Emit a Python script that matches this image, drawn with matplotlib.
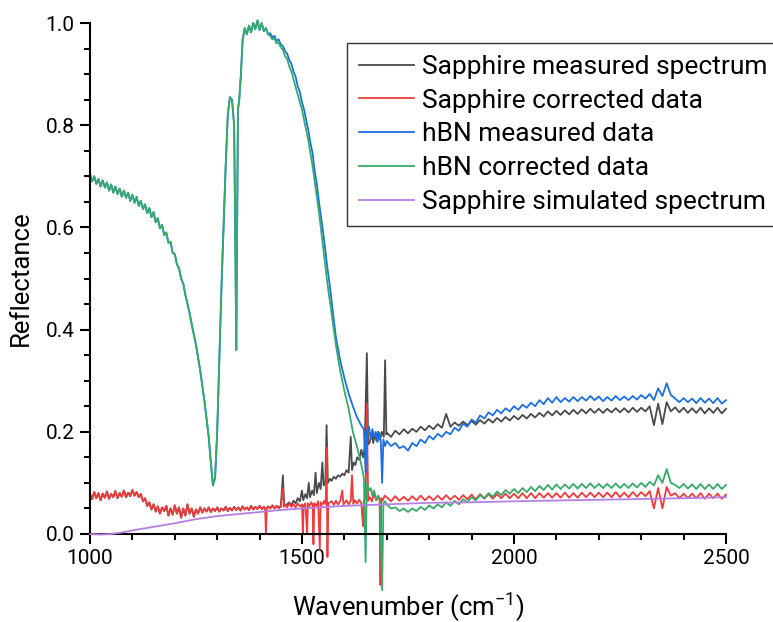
import matplotlib
matplotlib.use("Agg")
import matplotlib.pyplot as plt
from matplotlib.ticker import MultipleLocator, FormatStrFormatter

plt.rcParams['font.family'] = ['Roboto', 'DejaVu Sans']
plt.rcParams['mathtext.fontset'] = 'custom'
plt.rcParams['mathtext.rm'] = 'Roboto'
plt.rcParams['mathtext.default'] = 'regular'

# hBN shape shared by measured / corrected up to ~1420 cm-1
hbn_x_low = [1000, 1005, 1010, 1015, 1020, 1025, 1030, 1035, 1040, 1045, 1050, 1055, 1060, 1065, 1070,
             1075, 1080, 1085, 1090, 1095, 1100, 1105, 1110, 1115, 1120, 1125, 1130, 1135, 1140, 1145,
             1150, 1155, 1160, 1165, 1170, 1175, 1180, 1185, 1190, 1195, 1200, 1205, 1210, 1215, 1220,
             1225, 1230, 1235, 1240, 1245, 1250, 1255, 1260, 1270, 1280, 1285, 1290, 1295, 1300, 1310,
             1320, 1325, 1330, 1335, 1340, 1343, 1345, 1347, 1349, 1352, 1356, 1360, 1365, 1370, 1375,
             1380, 1385, 1390, 1395, 1400, 1405, 1410, 1415, 1420]
hbn_y_low = [0.705, 0.69, 0.70, 0.685, 0.695, 0.68, 0.692, 0.678, 0.688, 0.672, 0.684, 0.668, 0.68, 0.665, 0.676,
             0.66, 0.672, 0.658, 0.668, 0.652, 0.664, 0.648, 0.66, 0.642, 0.652, 0.636, 0.645, 0.628, 0.638, 0.62,
             0.63, 0.61, 0.618, 0.598, 0.605, 0.585, 0.59, 0.57, 0.572, 0.55, 0.548, 0.528, 0.52, 0.50, 0.49,
             0.468, 0.45, 0.432, 0.41, 0.39, 0.37, 0.345, 0.32, 0.26, 0.19, 0.14, 0.095, 0.11, 0.2, 0.48,
             0.72, 0.82, 0.855, 0.85, 0.80, 0.55, 0.36, 0.6, 0.83, 0.85, 0.90, 0.967, 0.99, 0.978, 0.995,
             0.982, 1.0, 0.988, 1.005, 0.986, 1.0, 0.984, 0.99, 0.978]

tail_x = list(range(1700, 2510, 10))

hbn_meas_x = hbn_x_low + [1425, 1430, 1435, 1440, 1445, 1450, 1455, 1460, 1465, 1470, 1475, 1480, 1485, 1490,
                          1495, 1500, 1505, 1510, 1515, 1520, 1525, 1530, 1535, 1540, 1545, 1550, 1555, 1560,
                          1565, 1570, 1575, 1580, 1590, 1600, 1610, 1620, 1630, 1640, 1646, 1650, 1653, 1658,
                          1662, 1666, 1670, 1674, 1678, 1682, 1686, 1689, 1692, 1696] + tail_x
hbn_meas_y = hbn_y_low + [0.98, 0.972, 0.975, 0.965, 0.968, 0.958, 0.955, 0.945, 0.94, 0.928, 0.92, 0.905, 0.895, 0.876,
                          0.865, 0.845, 0.83, 0.81, 0.79, 0.765, 0.745, 0.71, 0.685, 0.65, 0.62, 0.59, 0.555, 0.52,
                          0.49, 0.455, 0.42, 0.385, 0.34, 0.305, 0.275, 0.25, 0.228, 0.212, 0.205, 0.12, 0.2, 0.21,
                          0.185, 0.205, 0.19, 0.2, 0.18, 0.198, 0.18, 0.1, 0.185, 0.172,
                          0.182, 0.172, 0.178, 0.168, 0.172, 0.163, 0.178, 0.172, 0.185, 0.178, 0.192, 0.185, 0.196,
                          0.19, 0.2, 0.195, 0.208, 0.202, 0.216, 0.21, 0.224, 0.218, 0.232, 0.226, 0.238, 0.232,
                          0.243, 0.236, 0.246, 0.24, 0.25, 0.243, 0.253, 0.247, 0.257, 0.25, 0.262, 0.254, 0.266,
                          0.257, 0.268, 0.258, 0.266, 0.259, 0.268, 0.26, 0.268, 0.261, 0.27, 0.262, 0.269, 0.26,
                          0.268, 0.261, 0.27, 0.262, 0.269, 0.262, 0.27, 0.263, 0.272, 0.265, 0.274, 0.262, 0.285,
                          0.27, 0.295, 0.272, 0.265, 0.258, 0.266, 0.258, 0.265, 0.256, 0.266, 0.257, 0.265, 0.256,
                          0.266, 0.255, 0.262]

hbn_corr_x = hbn_x_low + [1425, 1430, 1435, 1440, 1445, 1450, 1455, 1460, 1465, 1470, 1475, 1480, 1485, 1490,
                          1495, 1500, 1505, 1510, 1515, 1520, 1525, 1530, 1535, 1540, 1545, 1550, 1555, 1560,
                          1565, 1570, 1580, 1590, 1600, 1610, 1620, 1630, 1640, 1646, 1650, 1653, 1658, 1662,
                          1666, 1670, 1675, 1680, 1684, 1689, 1692, 1696] + tail_x
hbn_corr_y = hbn_y_low + [0.975, 0.968, 0.97, 0.96, 0.962, 0.952, 0.948, 0.935, 0.93, 0.915, 0.905, 0.89, 0.875, 0.86,
                          0.845, 0.83, 0.81, 0.79, 0.77, 0.745, 0.72, 0.69, 0.66, 0.63, 0.595, 0.56, 0.525, 0.49,
                          0.46, 0.43, 0.37, 0.32, 0.28, 0.245, 0.2, 0.17, 0.135, 0.11, -0.055, 0.1, 0.085, 0.09,
                          0.075, 0.085, 0.068, 0.075, 0.065, -0.11, 0.06, 0.064,
                          0.058, 0.05, 0.052, 0.045, 0.05, 0.043, 0.05, 0.045, 0.053, 0.047, 0.056, 0.05, 0.058,
                          0.052, 0.062, 0.055, 0.065, 0.058, 0.068, 0.062, 0.072, 0.066, 0.076, 0.07, 0.08, 0.073,
                          0.083, 0.076, 0.086, 0.079, 0.088, 0.08, 0.09, 0.082, 0.092, 0.084, 0.094, 0.086, 0.096,
                          0.087, 0.097, 0.088, 0.097, 0.089, 0.098, 0.089, 0.098, 0.09, 0.099, 0.09, 0.098, 0.09,
                          0.098, 0.09, 0.099, 0.09, 0.098, 0.09, 0.099, 0.091, 0.1, 0.092, 0.102, 0.095, 0.115,
                          0.1, 0.127, 0.1, 0.096, 0.09, 0.098, 0.089, 0.097, 0.088, 0.098, 0.088, 0.097, 0.088,
                          0.098, 0.088, 0.096]

sap_x_low = [1000, 1005, 1010, 1015, 1020, 1025, 1030, 1035, 1040, 1045, 1050, 1055, 1060, 1065, 1070,
             1075, 1080, 1085, 1090, 1095, 1100, 1105, 1110, 1115, 1120, 1125, 1130, 1135, 1140, 1145,
             1150, 1155, 1160, 1165, 1170, 1175, 1180, 1185, 1190, 1195, 1200, 1205, 1210, 1215, 1220,
             1225, 1230, 1235, 1240, 1245, 1250, 1255, 1260, 1265, 1270, 1275, 1280, 1285, 1290, 1295,
             1300, 1305, 1310, 1315, 1320, 1325, 1330, 1335, 1340, 1345, 1350, 1355, 1360, 1365, 1370,
             1375, 1380, 1385, 1390, 1395, 1400, 1405, 1410]
sap_y_low = [0.078, 0.068, 0.082, 0.07, 0.08, 0.066, 0.079, 0.071, 0.083, 0.069, 0.078, 0.072, 0.084, 0.07, 0.08,
             0.073, 0.085, 0.072, 0.081, 0.074, 0.086, 0.075, 0.082, 0.072, 0.078, 0.064, 0.07, 0.055, 0.062, 0.048,
             0.058, 0.044, 0.054, 0.04, 0.052, 0.045, 0.055, 0.036, 0.05, 0.038, 0.056, 0.04, 0.052, 0.032, 0.05,
             0.036, 0.058, 0.04, 0.05, 0.034, 0.048, 0.04, 0.052, 0.042, 0.05, 0.044, 0.052, 0.043, 0.05, 0.045,
             0.052, 0.044, 0.05, 0.046, 0.053, 0.045, 0.051, 0.046, 0.053, 0.047, 0.052, 0.046, 0.054, 0.048, 0.052,
             0.047, 0.055, 0.048, 0.053, 0.049, 0.055, 0.049, 0.053]

sap_corr_x = sap_x_low + [1413, 1415, 1417, 1420, 1425, 1430, 1435, 1440, 1445, 1450, 1455, 1457, 1460, 1465, 1470,
                          1475, 1480, 1485, 1490, 1495, 1500, 1502, 1504, 1508, 1512, 1514, 1518, 1522, 1525,
                          1527, 1529, 1534, 1538, 1542, 1544, 1548, 1552, 1556, 1558, 1560, 1562, 1570, 1575,
                          1580, 1585, 1590, 1595, 1598, 1605, 1610, 1615, 1618, 1621, 1625, 1630, 1635, 1640,
                          1644, 1646, 1650, 1653, 1656, 1660, 1665, 1670, 1675, 1680, 1683, 1685, 1687, 1690,
                          1695] + tail_x
sap_corr_y = sap_y_low + [0.05, 0.0, 0.05, 0.054, 0.05, 0.056, 0.05, 0.055, 0.051, 0.056, 0.09, 0.053, 0.058, 0.052, 0.06,
                          0.053, 0.058, 0.052, 0.06, 0.054, 0.058, 0.0, 0.056, 0.06, 0.0, 0.06, 0.055, 0.062, 0.058,
                          -0.02, 0.06, 0.055, 0.064, -0.03, 0.062, 0.057, 0.065, 0.058, 0.17, -0.045, 0.06, 0.064, 0.057,
                          0.065, 0.058, 0.064, 0.085, 0.058, 0.066, 0.058, 0.065, 0.115, 0.059, 0.066, 0.06, 0.067, 0.06,
                          0.015, 0.065, 0.07, 0.255, 0.065, 0.072, 0.064, 0.08, 0.066, 0.072, 0.07, -0.1, 0.07, 0.065,
                          0.075,
                          0.072, 0.064, 0.074, 0.065, 0.073, 0.065, 0.074, 0.066, 0.075, 0.066, 0.074, 0.066, 0.075,
                          0.067, 0.076, 0.067, 0.075, 0.067, 0.076, 0.068, 0.077, 0.068, 0.078, 0.069, 0.078, 0.069,
                          0.078, 0.07, 0.079, 0.07, 0.079, 0.07, 0.08, 0.07, 0.08, 0.07, 0.08, 0.071, 0.08,
                          0.071, 0.08, 0.071, 0.081, 0.071, 0.08, 0.071, 0.081, 0.072, 0.081, 0.072, 0.081, 0.072,
                          0.081, 0.072, 0.082, 0.072, 0.081, 0.072, 0.082, 0.073, 0.082, 0.074, 0.084, 0.05, 0.09,
                          0.05, 0.092, 0.075, 0.08, 0.07, 0.079, 0.07, 0.079, 0.07, 0.08, 0.069, 0.079, 0.07,
                          0.079, 0.069, 0.077]

sap_meas_x = sap_x_low + [1413, 1415, 1417, 1420, 1425, 1430, 1435, 1440, 1445, 1450, 1455, 1458, 1465, 1470, 1475,
                          1480, 1485, 1490, 1495, 1500, 1503, 1508, 1512, 1516, 1519, 1524, 1528, 1532, 1535,
                          1540, 1544, 1548, 1551, 1555, 1558, 1561, 1566, 1570, 1575, 1580, 1585, 1590, 1595,
                          1600, 1605, 1610, 1615, 1618, 1622, 1626, 1630, 1635, 1640, 1644, 1648, 1653, 1656,
                          1660, 1665, 1668, 1672, 1676, 1680, 1684, 1688, 1693, 1696, 1699] + tail_x
sap_meas_y = sap_y_low + [0.05, 0.048, 0.05, 0.054, 0.05, 0.056, 0.05, 0.055, 0.051, 0.053, 0.115, 0.055, 0.058, 0.062,
                          0.056, 0.065, 0.06, 0.07, 0.064, 0.085, 0.066, 0.078, 0.07, 0.1, 0.072, 0.085, 0.076, 0.12,
                          0.08, 0.1, 0.088, 0.14, 0.095, 0.1, 0.213, 0.1, 0.108, 0.104, 0.112, 0.108, 0.115, 0.112,
                          0.118, 0.115, 0.125, 0.12, 0.19, 0.125, 0.14, 0.135, 0.15, 0.145, 0.165, 0.15, 0.17, 0.354,
                          0.175, 0.18, 0.2, 0.178, 0.195, 0.182, 0.2, 0.184, 0.2, 0.19, 0.34, 0.195,
                          0.198, 0.19, 0.202, 0.195, 0.205, 0.197, 0.206, 0.2, 0.21, 0.203, 0.212, 0.205, 0.215,
                          0.208, 0.235, 0.21, 0.218, 0.212, 0.22, 0.213, 0.221, 0.214, 0.223, 0.216, 0.225, 0.218,
                          0.227, 0.22, 0.229, 0.222, 0.231, 0.224, 0.233, 0.226, 0.235, 0.228, 0.237, 0.23, 0.24,
                          0.232, 0.241, 0.233, 0.242, 0.234, 0.243, 0.235, 0.244, 0.236, 0.245, 0.237, 0.245, 0.237,
                          0.245, 0.238, 0.246, 0.238, 0.246, 0.238, 0.247, 0.239, 0.247, 0.24, 0.25, 0.213, 0.255,
                          0.215, 0.258, 0.24, 0.248, 0.238, 0.247, 0.237, 0.246, 0.237, 0.247, 0.236, 0.246, 0.237,
                          0.247, 0.236, 0.245]

sap_sim_x = [1000, 1025, 1050, 1075, 1100, 1150, 1200, 1250, 1300, 1350, 1400, 1450, 1500, 1600, 1700,
             1800, 1900, 2000, 2200, 2400, 2500]
sap_sim_y = [0.0, -0.001, 0.0, 0.003, 0.007, 0.014, 0.021, 0.029, 0.035, 0.039, 0.043, 0.047, 0.05, 0.055, 0.058,
             0.061, 0.062, 0.064, 0.067, 0.07, 0.072]

fig = plt.figure(figsize=(7.73, 6.22), dpi=100)
ax = fig.add_axes([0.1164, 0.1415, 0.8228, 0.8215])

lw = 1.3
ax.plot(sap_meas_x, sap_meas_y, color='#4a4a4a', lw=lw, clip_on=False, label='Sapphire measured spectrum')
ax.plot(sap_corr_x, sap_corr_y, color='#ee3b3b', lw=lw, clip_on=False, label='Sapphire corrected data')
ax.plot(hbn_meas_x, hbn_meas_y, color='#1c6fe0', lw=lw, clip_on=False, label='hBN measured data')
ax.plot(hbn_corr_x, hbn_corr_y, color='#36aa6a', lw=lw, clip_on=False, label='hBN corrected data')
ax.plot(sap_sim_x, sap_sim_y, color='#b57ee2', lw=lw, clip_on=False, zorder=3,
        label='Sapphire simulated spectrum')

ax.set_xlim(1000, 2500)
ax.set_ylim(0, 1.0)
ax.xaxis.set_major_locator(MultipleLocator(500))
ax.xaxis.set_minor_locator(MultipleLocator(100))
ax.yaxis.set_major_locator(MultipleLocator(0.2))
ax.yaxis.set_minor_locator(MultipleLocator(0.05))
ax.yaxis.set_major_formatter(FormatStrFormatter('%.1f'))

for side in ['top', 'right']:
    ax.spines[side].set_visible(False)
for side in ['left', 'bottom']:
    ax.spines[side].set_linewidth(1.5)
ax.tick_params(which='major', direction='out', length=7, width=1.5, labelsize=15, pad=4)
ax.tick_params(which='minor', direction='out', length=4, width=1.5)

ax.set_xlabel('Wavenumber (cm$^{-1}$)', fontsize=18.5, labelpad=16)
ax.set_ylabel('Reflectance', fontsize=18.5, labelpad=9)

leg = ax.legend(loc='upper left', bbox_to_anchor=(347 / 773, 1 - 43 / 622), bbox_transform=fig.transFigure,
                fontsize=19, frameon=True, fancybox=False, borderaxespad=0, handlelength=2.1,
                handletextpad=0.3, labelspacing=0.37, borderpad=0.45)
leg.get_frame().set_edgecolor('black')
leg.get_frame().set_linewidth(1.0)
leg.set_zorder(5)

fig.savefig('out.png', dpi=100)
